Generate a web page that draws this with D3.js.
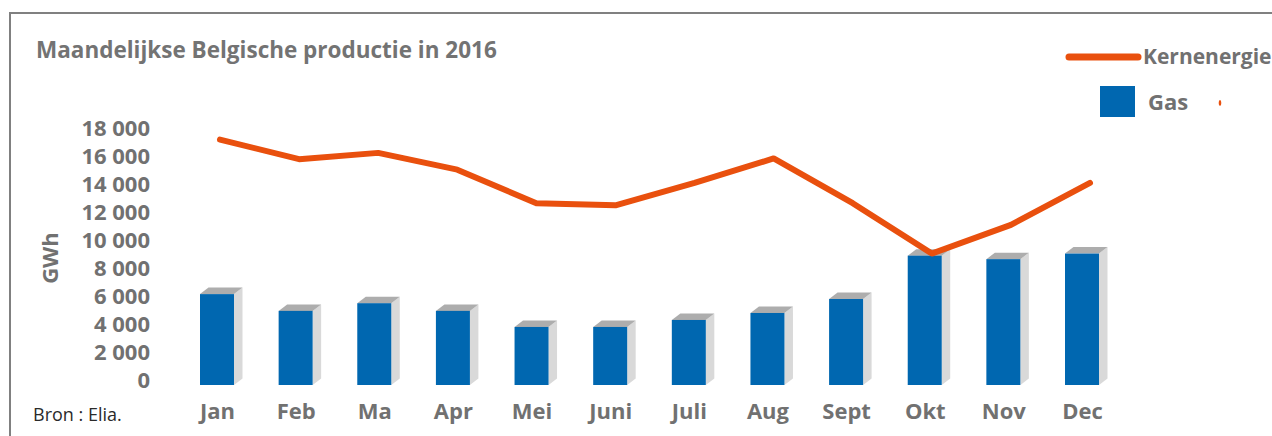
<!DOCTYPE html>
<html>
<head>
<meta charset="utf-8">
<script src="https://cdn.jsdelivr.net/npm/d3@7"></script>
<style>
  body { margin: 0; background: #fff; }
  text { font-family: "Open Sans", sans-serif; }
</style>
</head>
<body>
<div id="chart"></div>
<script>
var months = ["Jan", "Feb", "Ma", "Apr", "Mei", "Juni", "Juli", "Aug", "Sept", "Okt", "Nov", "Dec"];
var gas = [6500, 5300, 5850, 5300, 4150, 4150, 4650, 5150, 6150, 9250, 9000, 9400];
var kernenergie = [17550, 16150, 16600, 15400, 13000, 12850, 14450, 16200, 13000, 9400, 11450, 14450];
var y_ticks = [0, 2000, 4000, 6000, 8000, 10000, 12000, 14000, 16000, 18000];
var series_names = ["Kernenergie", "Gas"];

var full_width = 1272, full_height = 436;
var blue = "#0067b0", orange = "#e9500e", grey_text = "#717171";
var depth_x = 8.5, depth_y = 6.5;

function getScales(){
    var x = d3.scalePoint()
              .domain(months)
              .range([217, 1082]);
    // the line sits a bit to the right of the bar fronts
    var x_line = d3.scalePoint()
              .domain(months)
              .range([220, 1090]);
    var y = d3.scaleLinear()
              .domain([0, 18000])
              .range([385, 133.3]);
    return [x, x_line, y];
}

function createChart(){
    var scales = getScales();
    var x = scales[0], x_line = scales[1], y = scales[2];

    var svg = d3.select("#chart")
                .append("svg")
                .attr("width", full_width)
                .attr("height", full_height);

    // frame
    svg.append("path")
       .attr("d", "M10,436 L10,13 L1272,13")
       .attr("fill", "none")
       .attr("stroke", "#808080")
       .attr("stroke-width", 2);

    svg.append("text")
       .attr("x", 36).attr("y", 58)
       .attr("font-size", 22.5).attr("font-weight", "bold")
       .attr("fill", "#737373")
       .text("Maandelijkse Belgische productie in 2016");

    // y axis
    var fmt = d3.formatLocale({decimal: ",", thousands: " ", grouping: [3], currency: ["", ""]}).format(",");
    var y_axis = d3.axisLeft(y).tickValues(y_ticks).tickSize(0).tickPadding(3).tickFormat(fmt);
    var gy = svg.append("g").attr("transform", "translate(153,0)").call(y_axis);
    gy.select(".domain").remove();
    gy.selectAll("text")
      .attr("y", -5)
      .attr("font-family", "Open Sans").attr("font-size", 22).attr("font-weight", "bold")
      .attr("fill", grey_text);

    svg.append("text")
       .attr("transform", "translate(58,258) rotate(-90)")
       .attr("text-anchor", "middle")
       .attr("font-size", 22).attr("font-weight", "bold")
       .attr("fill", grey_text)
       .text("GWh");

    // x axis
    var x_axis = d3.axisBottom(x).tickSize(0);
    var gx = svg.append("g").attr("transform", "translate(0,385)").call(x_axis);
    gx.select(".domain").remove();
    gx.selectAll("text")
      .attr("y", 34).attr("dy", 0)
      .attr("font-family", "Open Sans").attr("font-size", 22).attr("font-weight", "bold")
      .attr("fill", grey_text);

    svg.append("text")
       .attr("x", 33).attr("y", 421)
       .attr("font-size", 18).attr("fill", "#2a2a2a")
       .text("Bron : Elia.");

    // 3d bars
    var bw = 34;
    var bars = svg.selectAll(".bar")
                  .data(months.map((m, i) => ({month: m, value: gas[i]})))
                  .enter().append("g").attr("class", "bar");

    bars.append("polygon")
        .attr("fill", "#d9d9d9")
        .attr("points", d => {
            var x1 = x(d.month) + bw/2, t = y(d.value), b = y(0);
            return [[x1, t], [x1 + depth_x, t - depth_y], [x1 + depth_x, b - depth_y], [x1, b]].join(" ");
        });
    bars.append("polygon")
        .attr("fill", "#adadad")
        .attr("points", d => {
            var x0 = x(d.month) - bw/2, t = y(d.value);
            return [[x0, t], [x0 + depth_x, t - depth_y], [x0 + bw + depth_x, t - depth_y], [x0 + bw, t]].join(" ");
        });
    bars.append("rect")
        .attr("x", d => x(d.month) - bw/2)
        .attr("width", bw)
        .attr("y", d => y(d.value))
        .attr("height", d => y(0) - y(d.value))
        .attr("fill", blue);

    // line
    var line = d3.line()
                 .x((d, i) => x_line(months[i]))
                 .y(d => y(d));
    svg.append("path")
       .datum(kernenergie)
       .attr("d", line)
       .attr("fill", "none")
       .attr("stroke", orange)
       .attr("stroke-width", 6)
       .attr("stroke-linejoin", "round")
       .attr("stroke-linecap", "round");

    // legend
    svg.append("line")
       .attr("x1", 1069).attr("x2", 1138).attr("y1", 57).attr("y2", 57)
       .attr("stroke", orange).attr("stroke-width", 7).attr("stroke-linecap", "round");
    svg.append("text")
       .attr("x", 1143).attr("y", 64)
       .attr("font-size", 21).attr("font-weight", "bold").attr("fill", grey_text)
       .text(series_names[0]);
    svg.append("rect")
       .attr("x", 1100).attr("y", 86).attr("width", 35).attr("height", 31)
       .attr("fill", blue);
    svg.append("text")
       .attr("x", 1148).attr("y", 110)
       .attr("font-size", 22).attr("font-weight", "bold").attr("fill", grey_text)
       .text(series_names[1]);
    svg.append("ellipse")
       .attr("cx", 1220).attr("cy", 103).attr("rx", 1.3).attr("ry", 3)
       .attr("fill", orange);
}

createChart();
</script>
</body>
</html>
